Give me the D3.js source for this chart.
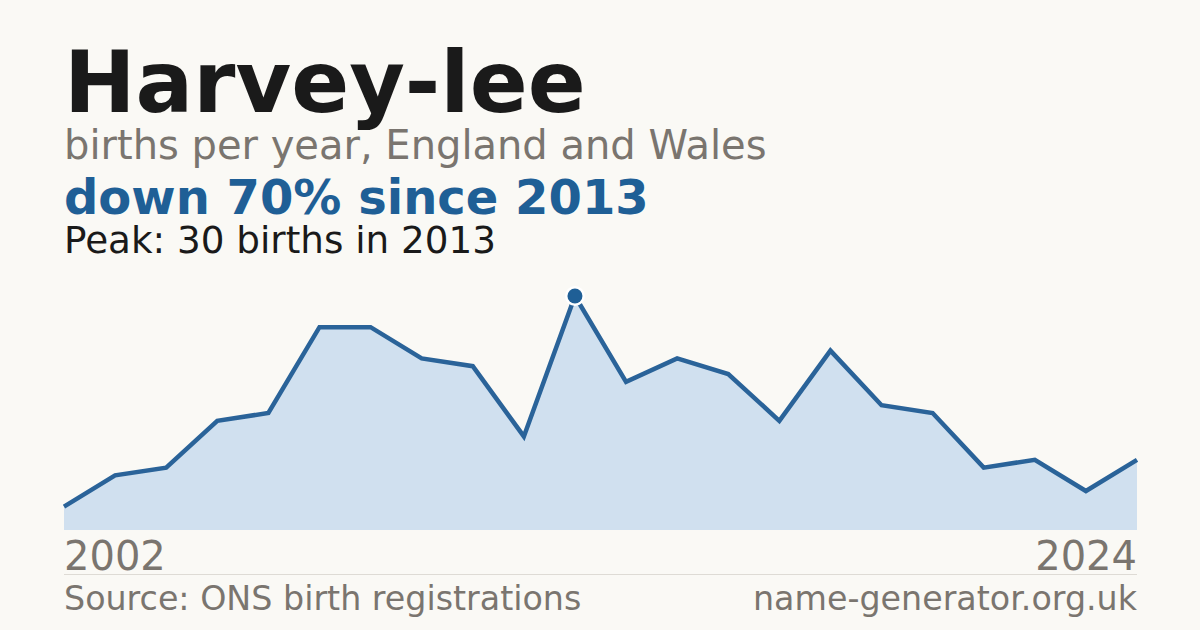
<!DOCTYPE html>
<html>
<head>
<meta charset="utf-8">
<script src="https://cdn.jsdelivr.net/npm/d3@7"></script>
<style>
  html, body { margin: 0; padding: 0; background: #faf9f5; }
  svg { display: block; font-family: "DejaVu Sans", sans-serif; }
</style>
</head>
<body>
<div id="chart"></div>
<script>
// births per year (one year has no published count, so 22 points)
var years = [2002, 2003, 2004, 2005, 2006, 2007, 2008, 2009, 2010, 2011, 2012,
             2014, 2015, 2016, 2017, 2018, 2019, 2020, 2021, 2022, 2023, 2024];
var births = [3, 7, 8, 14, 15, 26, 26, 22, 21, 12, 30,
              19, 22, 20, 14, 23, 16, 15, 8, 9, 5, 9];
// the peak is shown as 2013 in the headline
var peakYear = 2013;
var axisLabels = ["2002", "2024"];

var width = 1200, height = 630;
var margin = { left: 64, right: 63, top: 296, bottom: 100 };

var svg = d3.select("#chart").append("svg")
    .attr("width", width)
    .attr("height", height);

svg.append("rect")
    .attr("width", width)
    .attr("height", height)
    .attr("fill", "#faf9f5");

var data = births.map(function(v, i) {
    return { year: years[i], value: v, i: i };
});

// set the ranges (points are evenly spaced by index)
var x = d3.scaleLinear()
    .domain([0, data.length - 1])
    .range([margin.left, width - margin.right]);

var y = d3.scaleLinear()
    .domain([0, d3.max(births)])
    .range([height - margin.bottom, margin.top]);

// area under the line
var area = d3.area()
    .x(function(d) { return x(d.i); })
    .y0(y(0))
    .y1(function(d) { return y(d.value); });

svg.append("path")
    .datum(data)
    .attr("fill", "#d0e0ef")
    .attr("d", area);

var line = d3.line()
    .x(function(d) { return x(d.i); })
    .y(function(d) { return y(d.value); });

svg.append("path")
    .datum(data)
    .attr("fill", "none")
    .attr("stroke", "#2a6399")
    .attr("stroke-width", 4.5)
    .attr("stroke-linejoin", "miter")
    .attr("d", line);

// peak marker
var peak = data.reduce(function(a, b) { return b.value > a.value ? b : a; });
svg.append("circle")
    .attr("cx", x(peak.i))
    .attr("cy", y(peak.value))
    .attr("r", 7.5)
    .attr("fill", "#1f5f96")
    .attr("stroke", "#ffffff")
    .attr("stroke-width", 5)
    .attr("paint-order", "stroke");

// titles
svg.append("text")
    .attr("x", 64).attr("y", 112)
    .attr("font-size", 85.5)
    .attr("font-weight", "bold")
    .attr("fill", "#1a1a1a")
    .text("Harvey-lee");

svg.append("text")
    .attr("x", 64).attr("y", 159)
    .attr("font-size", 40)
    .attr("fill", "#7a756f")
    .text("births per year, England and Wales");

var first = births[births.length - 1];
var pct = Math.round((1 - first / peak.value) * 100);
svg.append("text")
    .attr("x", 64).attr("y", 214)
    .attr("font-size", 48)
    .attr("font-weight", "bold")
    .attr("fill", "#1f5f96")
    .text("down " + pct + "% since " + peakYear);

svg.append("text")
    .attr("x", 64).attr("y", 253)
    .attr("font-size", 37.3)
    .attr("fill", "#1a1a1a")
    .text("Peak: " + peak.value + " births in " + peakYear);

// year labels at the ends
svg.append("text")
    .attr("x", x(0)).attr("y", 570)
    .attr("font-size", 40)
    .attr("fill", "#7a756f")
    .text(axisLabels[0]);

svg.append("text")
    .attr("x", x(data.length - 1)).attr("y", 570)
    .attr("font-size", 40)
    .attr("text-anchor", "end")
    .attr("fill", "#7a756f")
    .text(axisLabels[1]);

// separator
svg.append("line")
    .attr("x1", x(0)).attr("x2", x(data.length - 1))
    .attr("y1", 574.5).attr("y2", 574.5)
    .attr("stroke", "#dedbd5")
    .attr("stroke-width", 1);

// footer
svg.append("text")
    .attr("x", 64).attr("y", 610)
    .attr("font-size", 33.3)
    .attr("fill", "#7a756f")
    .text("Source: ONS birth registrations");

svg.append("text")
    .attr("x", x(data.length - 1)).attr("y", 610)
    .attr("font-size", 33.3)
    .attr("text-anchor", "end")
    .attr("fill", "#7a756f")
    .text("name-generator.org.uk");
</script>
</body>
</html>
